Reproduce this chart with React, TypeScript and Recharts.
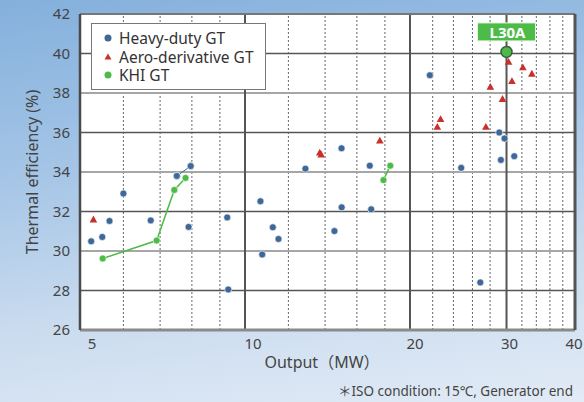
import {
  ScatterChart,
  Scatter,
  XAxis,
  YAxis,
  ReferenceLine,
  ReferenceArea,
  Label,
} from "recharts";

// ---- data ----
const heavyDutyOutput = [5.24, 5.49, 5.66, 6.0, 6.73, 7.51, 7.96, 7.89, 9.28, 9.32, 10.67, 10.75, 11.24, 11.51, 12.89, 14.56, 15.0, 15.01, 16.89, 16.99, 21.74, 24.8, 26.87, 29.1, 29.3, 29.75, 30.99];
const heavyDutyEff = [30.49, 30.71, 31.52, 32.91, 31.55, 33.8, 34.3, 31.22, 31.7, 28.05, 32.52, 29.82, 31.2, 30.61, 34.17, 31.01, 35.2, 32.21, 34.32, 32.11, 38.9, 34.21, 28.41, 36.0, 34.61, 35.7, 34.8];
const heavyDutyLinked = [5, 6]; // the two points joined by a short line

const aeroOutput = [5.29, 13.69, 13.77, 17.62, 22.43, 22.74, 27.51, 28.03, 29.5, 30.26, 30.69, 32.13, 33.37];
const aeroEff = [31.59, 34.98, 34.88, 35.58, 36.28, 36.67, 36.28, 38.31, 37.69, 39.57, 38.6, 39.29, 38.97];

const khiSmallOutput = [5.5, 6.9, 7.43, 7.79];
const khiSmallEff = [29.62, 30.53, 33.09, 33.7];
const khiMidOutput = [17.89, 18.41];
const khiMidEff = [33.59, 34.32];
const l30aOutput = [30];
const l30aEff = [40.08];

const xTicks = [5, 10, 20, 30, 40];
const xTickShift: Record<number, number> = { 5: 12, 10: 8, 20: 5, 30: 3, 40: -1 };
const yTicks = [26, 28, 30, 32, 34, 36, 38, 40, 42];
const xMajor = [10, 20, 30];
const xMinor = [6, 7, 8, 9, 12, 14, 16, 18, 22, 24, 26, 28, 32, 34, 36, 38];
const yDark = [28, 32, 36, 40];
const yLight = [30, 34, 38];

const BLUE = "#3f6898";
const RED = "#c9302c";
const GREEN = "#4dbb47";
const DARK = "#555";
const FONT = "'Noto Sans', 'Noto Sans CJK JP', sans-serif";

const zip = (xs: number[], ys: number[]) => xs.map((x, i) => ({ x, y: ys[i] }));

const heavy = zip(heavyDutyOutput, heavyDutyEff);
const heavyPair = heavyDutyLinked.map((i) => heavy[i]);
const aero = zip(aeroOutput, aeroEff);
const khiSmall = zip(khiSmallOutput, khiSmallEff);
const khiMid = zip(khiMidOutput, khiMidEff);
const l30a = zip(l30aOutput, l30aEff);

const Dot = (color: string, r = 3.5) => (p: any) => (
  <circle cx={p.cx} cy={p.cy} r={r} fill={color} stroke="#fff" strokeWidth={0.6} />
);

const Tri = (p: any) => (
  <path
    d={`M${p.cx},${p.cy - 4} L${p.cx + 3.8},${p.cy + 2.8} L${p.cx - 3.8},${p.cy + 2.8} Z`}
    fill={RED}
  />
);

const L30AShape = (p: any) => (
  <g>
    <rect x={p.cx - 29} y={p.cy - 29} width={58} height={18} fill={GREEN} stroke="#e8f5e6" strokeWidth={1} />
    <text
      x={p.cx + 1}
      y={p.cy - 20}
      textAnchor="middle"
      dominantBaseline="central"
      fill="#fff"
      fontSize={15}
      fontWeight={700}
      fontFamily={FONT}
    >
      L30A
    </text>
    <circle cx={p.cx} cy={p.cy} r={5.5} fill={GREEN} stroke="#3b5e3b" strokeWidth={1.5} />
  </g>
);

const XTick = (p: any) => (
  <text
    x={p.x + (xTickShift[p.payload.value] ?? 0)}
    y={p.y}
    dy="0.71em"
    textAnchor="middle"
    fill="#444"
    fontSize={15}
    fontFamily={FONT}
  >
    {p.payload.value}
  </text>
);

const legendItems = [
  { label: "Heavy-duty GT", mark: <circle cx={6} cy={6} r={3.5} fill={BLUE} /> },
  { label: "Aero-derivative GT", mark: <path d="M6,2.5 L9.5,8.5 L2.5,8.5 Z" fill={RED} /> },
  { label: "KHI GT", mark: <circle cx={6} cy={6} r={3.5} fill={GREEN} /> },
];

export default function App() {
  return (
    <div
      style={{
        position: "fixed",
        left: 0,
        top: 0,
        width: 584,
        height: 402,
        background: "linear-gradient(172deg, #84b0dc 0%, #a3c4e6 35%, #cbdcef 70%, #e2ebf6 100%)",
        fontFamily: FONT,
      }}
    >
      <ScatterChart width={584} height={402} margin={{ top: 14, right: 9, bottom: 42, left: 0 }}>
        <XAxis
          type="number"
          dataKey="x"
          scale="log"
          domain={[5, 40]}
          ticks={xTicks}
          tick={XTick}
          tickLine={false}
          axisLine={false}
          height={30}
          allowDataOverflow
        >
          <Label
            content={() => (
              <text x={322} y={368} textAnchor="middle" fill="#444" fontSize={16} fontFamily={FONT}>
                Output（MW）
              </text>
            )}
          />
        </XAxis>
        <YAxis
          type="number"
          dataKey="y"
          domain={[26, 42]}
          ticks={yTicks}
          tick={{ fill: "#444", fontSize: 15, fontFamily: FONT }}
          tickLine={false}
          axisLine={false}
          tickMargin={4}
          width={80}
          allowDataOverflow
        >
          <Label
            content={() => (
              <text
                x={32}
                y={172}
                transform="rotate(-90, 32, 172)"
                textAnchor="middle"
                dominantBaseline="central"
                fill="#444"
                fontSize={16}
                fontFamily={FONT}
              >
                Thermal efficiency (%)
              </text>
            )}
          />
        </YAxis>

        <ReferenceArea x1={5} x2={40} y1={26} y2={42} fill="#fff" fillOpacity={1} stroke="none" />
        {xMinor.map((v) => (
          <ReferenceLine key={`xm${v}`} x={v} stroke="#666" strokeWidth={1} strokeDasharray="2 2" />
        ))}
        {yLight.map((v) => (
          <ReferenceLine key={`yl${v}`} y={v} stroke="#a6a6a6" strokeWidth={2} />
        ))}
        {yDark.map((v) => (
          <ReferenceLine key={`yd${v}`} y={v} stroke={DARK} strokeWidth={1.3} />
        ))}
        {xMajor.map((v) => (
          <ReferenceLine key={`xM${v}`} x={v} stroke={DARK} strokeWidth={2} />
        ))}
        <ReferenceLine y={42} stroke="#777" strokeWidth={2} />
        <ReferenceLine y={26} stroke="#8a8a8a" strokeWidth={3} />
        <ReferenceLine x={5} stroke="#4a4a4a" strokeWidth={2.5} />
        <ReferenceLine x={40} stroke={DARK} strokeWidth={3} />

        <Scatter data={heavyPair} line={{ stroke: BLUE, strokeWidth: 1 }} shape={Dot(BLUE)} isAnimationActive={false} />
        <Scatter name="Heavy-duty GT" data={heavy} shape={Dot(BLUE)} isAnimationActive={false} />
        <Scatter name="Aero-derivative GT" data={aero} shape={Tri} isAnimationActive={false} />
        <Scatter data={khiSmall} line={{ stroke: GREEN, strokeWidth: 1.5 }} shape={Dot(GREEN)} isAnimationActive={false} />
        <Scatter data={khiMid} line={{ stroke: GREEN, strokeWidth: 1.5 }} shape={Dot(GREEN)} isAnimationActive={false} />
        <Scatter name="KHI GT" data={l30a} shape={L30AShape} isAnimationActive={false} />
      </ScatterChart>

      <div
        style={{
          position: "absolute",
          left: 91,
          top: 23,
          width: 173,
          height: 60,
          background: "#fff",
          border: "1px solid #777",
          boxSizing: "content-box",
          fontSize: 15.5,
          color: "#333",
          paddingTop: 5,
        }}
      >
        {legendItems.map((it) => (
          <div key={it.label} style={{ display: "flex", alignItems: "center", height: 18.5, lineHeight: "18px" }}>
            <svg width={12} height={12} style={{ marginLeft: 10, marginRight: 5 }}>
              {it.mark}
            </svg>
            <span style={{ lineHeight: "18px" }}>{it.label}</span>
          </div>
        ))}
      </div>

      <div
        style={{
          position: "absolute",
          left: 338,
          top: 380,
          fontSize: 13.5,
          color: "#444",
          whiteSpace: "nowrap",
        }}
      >
        ＊ISO condition: 15℃, Generator end
      </div>
    </div>
  );
}
